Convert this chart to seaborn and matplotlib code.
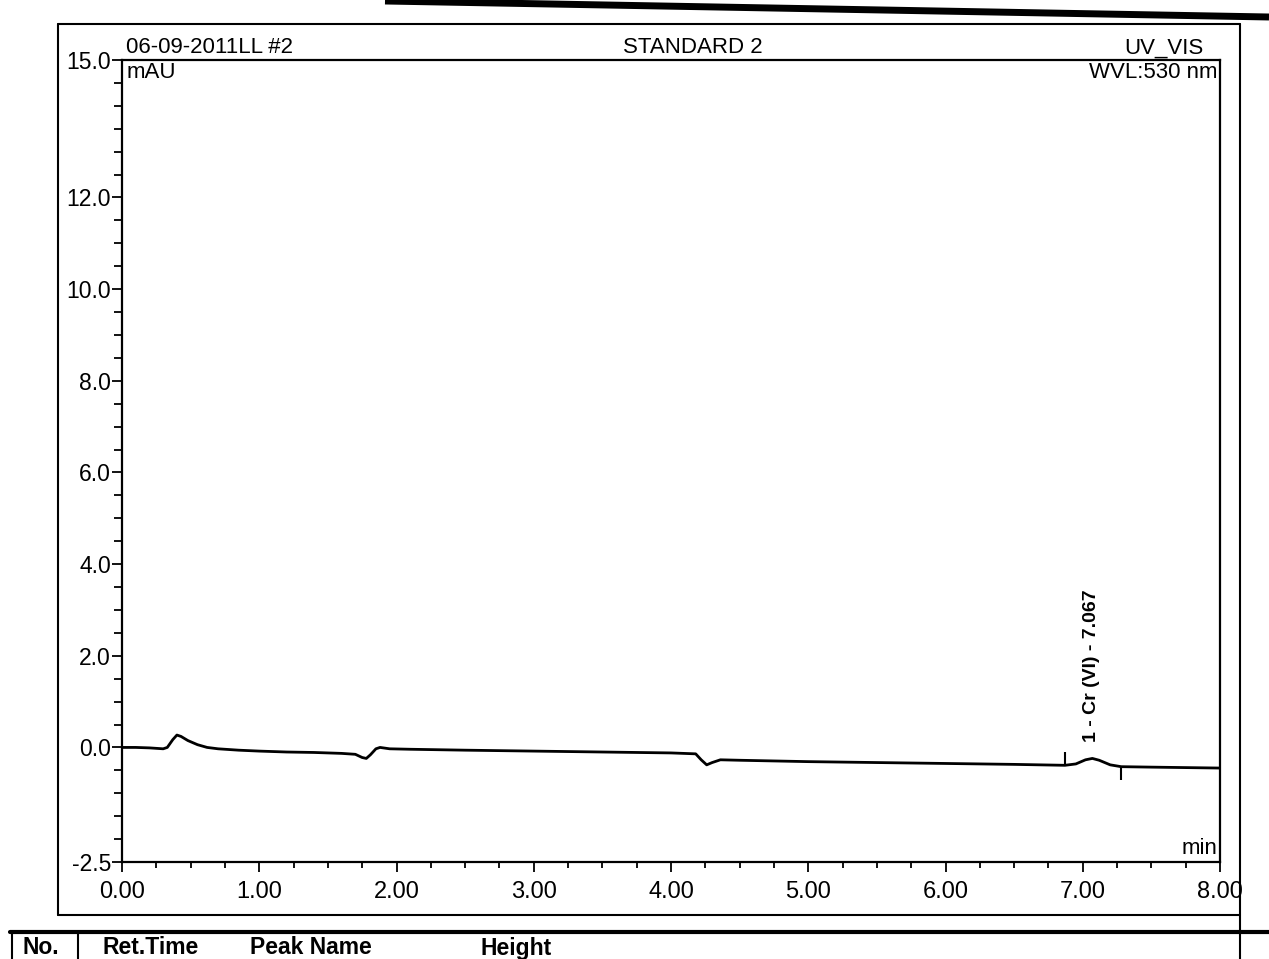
import numpy as np
import pandas as pd
import matplotlib
matplotlib.use("Agg")
import matplotlib.pyplot as plt
from matplotlib.lines import Line2D
from matplotlib.ticker import FixedLocator, MultipleLocator
import seaborn as sns

# Chromatogram trace: retention time (min) and detector signal (mAU)
time_min = [0.00, 0.10, 0.20, 0.30, 0.33, 0.37, 0.40, 0.43, 0.48, 0.55, 0.62, 0.70,
            0.85, 1.00, 1.20, 1.40, 1.60, 1.70, 1.75, 1.78, 1.81, 1.85, 1.88, 1.95,
            2.10, 2.50, 3.00, 3.50, 4.00, 4.18, 4.22, 4.26, 4.30, 4.36, 4.50, 5.00,
            5.50, 6.00, 6.50, 6.87, 6.95, 7.02, 7.07, 7.12, 7.20, 7.28, 7.50, 8.00]
signal_mau = [0.00, 0.00, -0.01, -0.03, 0.00, 0.17, 0.27, 0.24, 0.15, 0.06, 0.00, -0.03,
              -0.06, -0.08, -0.10, -0.11, -0.13, -0.15, -0.22, -0.24, -0.16, -0.03, 0.00, -0.03,
              -0.04, -0.06, -0.08, -0.10, -0.12, -0.14, -0.27, -0.38, -0.33, -0.27, -0.28, -0.31,
              -0.33, -0.35, -0.37, -0.39, -0.36, -0.27, -0.24, -0.28, -0.38, -0.42, -0.43, -0.45]

# Integrated peak
peak_number = 1
peak_name = "Cr (VI)"
peak_rt = 7.067
peak_start = 6.87
peak_end = 7.28

# Axis ticks
y_major = [-2.5, 0.0, 2.0, 4.0, 6.0, 8.0, 10.0, 12.0, 15.0]
y_labels = ["-2.5", "0.0", "2.0", "4.0", "6.0", "8.0", "10.0", "12.0", "15.0"]
x_major = [0, 1, 2, 3, 4, 5, 6, 7, 8]
x_labels = ["0.00", "1.00", "2.00", "3.00", "4.00", "5.00", "6.00", "7.00", "8.00"]

# Header texts
sample_id = "06-09-2011LL #2"
sample_name = "STANDARD 2"
channel = "UV_VIS"
wavelength = "WVL:530 nm"

# Peak table header
table_headers = ["No.", "Ret.Time", "Peak Name", "Height"]

sns.set_theme(style="ticks")
plt.rcParams["font.family"] = ["Liberation Sans", "DejaVu Sans"]
plt.rcParams["text.color"] = "black"

W, H = 1269, 959
fig = plt.figure(figsize=(W / 100, H / 100), dpi=100)
fig.patch.set_facecolor("white")


def fx(x):
    return x / W


def fy(y):
    return 1 - y / H


# chart area in pixel terms
left, right, top, bottom = 122, 1220, 60, 862
ax = fig.add_axes([fx(left), fy(bottom), fx(right - left), (bottom - top) / H])

df = pd.DataFrame({"time": time_min, "signal": signal_mau})
sns.lineplot(data=df, x="time", y="signal", ax=ax, color="black", lw=2.0,
             estimator=None, sort=False)

ax.set_xlim(0, 8)
ax.set_ylim(-2.5, 15.0)
ax.set_xlabel("")
ax.set_ylabel("")

ax.yaxis.set_major_locator(FixedLocator(y_major))
ax.set_yticklabels(y_labels)
ax.yaxis.set_minor_locator(MultipleLocator(0.5))
ax.xaxis.set_major_locator(FixedLocator(x_major))
ax.set_xticklabels(x_labels)
ax.xaxis.set_minor_locator(MultipleLocator(0.25))

ax.tick_params(axis="both", which="major", direction="out", length=7, width=1.3,
               colors="black")
ax.tick_params(axis="y", which="major", labelsize=16.5, pad=1)
ax.tick_params(axis="x", which="major", labelsize=17, pad=7)
ax.tick_params(axis="y", which="minor", direction="out", length=6, width=1.3, colors="black")
ax.tick_params(axis="x", which="minor", direction="out", length=4, width=1.3, colors="black")

for s in ax.spines.values():
    s.set_visible(True)
    s.set_color("black")
    s.set_linewidth(1.6)

# peak delimiters and label
base_start = np.interp(peak_start, time_min, signal_mau)
base_end = np.interp(peak_end, time_min, signal_mau)
apex = np.interp(peak_rt, time_min, signal_mau)
ax.vlines(peak_start, base_start, base_start + 0.28, color="black", lw=1.5)
ax.vlines(peak_end, base_end - 0.28, base_end, color="black", lw=1.5)
ax.text(peak_rt, apex + 0.35, f"{peak_number} - {peak_name} - {peak_rt:.3f}",
        rotation=90, ha="center", va="bottom", fontsize=14, fontweight="bold")

# chart annotations
ax.text(0.004, 0.997, "mAU", transform=ax.transAxes, ha="left", va="top", fontsize=16)
ax.text(0.998, 0.004, "min", transform=ax.transAxes, ha="right", va="bottom", fontsize=16)
ax.text(0.004, 1.002, sample_id, transform=ax.transAxes, ha="left", va="bottom", fontsize=16)
ax.text(0.52, 1.002, sample_name, transform=ax.transAxes, ha="center", va="bottom", fontsize=16)
ax.text(0.985, 1.002, channel, transform=ax.transAxes, ha="right", va="bottom", fontsize=16)
ax.text(0.998, 0.997, wavelength, transform=ax.transAxes, ha="right", va="top", fontsize=16)

# page frame around the chart
frame_l, frame_r, frame_t, frame_b = 58, 1240, 24, 915
for (x0, y0, x1, y1) in [(frame_l, frame_t, frame_r, frame_t),
                         (frame_l, frame_t, frame_l, frame_b),
                         (frame_l, frame_b, frame_r, frame_b),
                         (frame_r, frame_t, frame_r, H)]:
    fig.add_artist(Line2D([fx(x0), fx(x1)], [fy(y0), fy(y1)], color="black", lw=1.5))

# sheet edge along the top
fig.add_artist(Line2D([fx(385), fx(W)], [fy(1), fy(17)], color="black", lw=5,
                      solid_capstyle="butt"))

# peak table header
fig.add_artist(Line2D([fx(10), fx(W)], [fy(932), fy(932)], color="black", lw=3))
fig.add_artist(Line2D([fx(12), fx(12)], [fy(932), fy(H)], color="black", lw=1.5))
fig.add_artist(Line2D([fx(78), fx(78)], [fy(932), fy(H)], color="black", lw=1.5))
for label, xpos in zip(table_headers, [22, 102, 250, 480]):
    fig.text(fx(xpos), fy(948), label, ha="left", va="center", fontsize=16.5,
             fontweight="bold")

fig.savefig("out.png", dpi=100, facecolor="white")
